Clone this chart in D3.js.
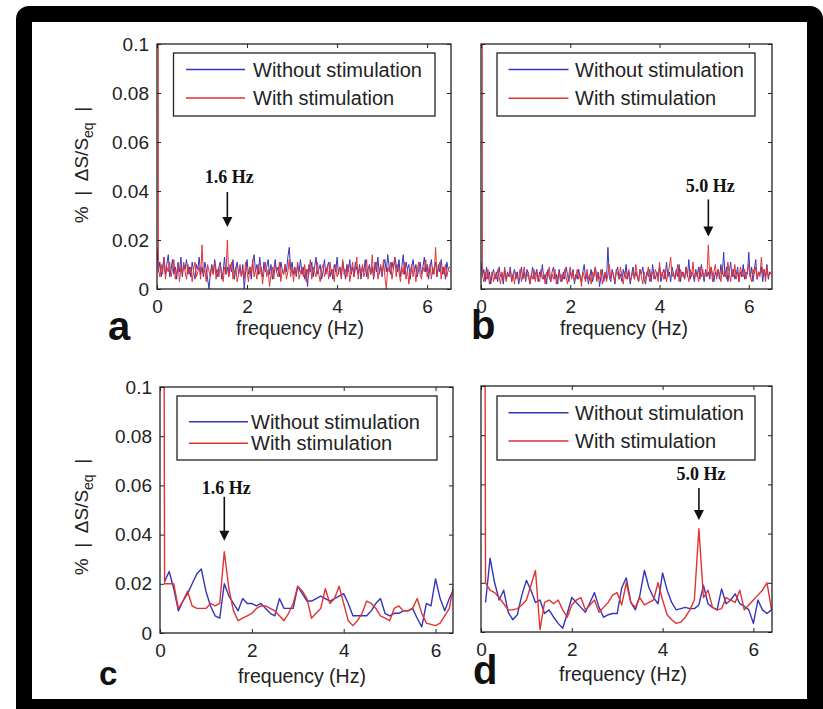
<!DOCTYPE html>
<html>
<head>
<meta charset="utf-8">
<script src="https://cdn.jsdelivr.net/npm/d3@7"></script>
<style>
  html, body { margin: 0; padding: 0; background: #fff; }
  svg { display: block; }
</style>
</head>
<body>
<svg id="chart" width="823" height="709" font-family='"Liberation Sans", Arial, sans-serif'></svg>
<script>
// Spectral amplitude of the signal change, in units of 0.001 % |ΔS/Seq|.
// Bin 0 is the DC term; null means no value at that bin.
const stepAB = 1 / 32; // Hz between bins, panels a and b
const stepCD = 0.1;    // Hz between bins, panels c and d

const aWithout = [
  17, 7, 11, 5, 9, 13, 6, 10, 14, 5,
  8, 12, 6, 9, 4, 11, 7, 13, 5, 10,
  8, 12, 6, 9, 5, 11, 7, 4, 10, 8,
  13, 6, 9, 5, 11, 8, 4, 0, 7, 10,
  6, 12, 8, 5, 9, 11, 4, 7, 13, 6,
  9, 5, 10, 7, 12, 4, 8, 11, 6, 9,
  5, 10, 0, 7, 12, 6, 9, 4, 11, 14,
  7, 10, 6, 13, 8, 5, 11, 7, 9, 12,
  6, 10, 4, 8, 12, 7, 9, 5, 11, 8,
  6, 10, 7, 13, 17, 8, 11, 6, 9, 5,
  10, 7, 12, 6, 9, 4, 8, 1, 10, 7,
  11, 5, 9, 13, 6, 8, 10, 4, 7, 12,
  6, 9, 11, 5, 8, 4, 10, 7, 13, 6,
  9, 5, 11, 8, 4, 10, 7, 12, 6, 9,
  5, 11, 8, 6, 10, 4, 9, 7, 12, 5,
  8, 10, 6, 9, 4, 11, 7, 13, 6, 9,
  5, 10, 12, 7, 14, 9, 6, 11, 8, 13,
  10, 7, 12, 5, 9, 14, 6, 11, 8, 10,
  4, 9, 12, 7, 10, 5, 8, 11, 6, 9,
  13, 7, 10, 4, 9, 12, 6, 8, 11, 5,
  10, 7, 12, 6, 9, 4, 11, 8, 9
];
const aWith = [
  1500, 8, 5, 10, 6, 13, 4, 9, 7, 11,
  5, 8, 12, 4, 7, 10, 3, 9, 6, 11,
  7, 4, 10, 6, 9, 3, 8, 11, 5, 7,
  9, 4, 18, 6, 8, 3, 10, 7, 5, 9,
  6, 11, 4, 8, 5, 10, 7, 3, 9, 6,
  20, 5, 8, 11, 4, 7, 9, 3, 6, 10,
  5, 8, 4, 11, 7, 3, 9, 6, 12, 5,
  8, 4, 10, 6, 9, 2, 7, 11, 5, 8,
  1, 6, 9, 4, 10, 7, 5, 11, 3, 8,
  6, 10, 4, 7, 12, 5, 9, 3, 8, 6,
  11, 4, 7, 9, 5, 10, 3, 8, 6, 12,
  4, 9, 7, 5, 11, 6, 3, 8, 10, 5,
  7, 9, 4, 11, 6, 8, 3, 10, 5, 7,
  9, 4, 12, 6, 8, 5, 10, 3, 7, 11,
  5, 8, 13, 4, 9, 6, 10, 5, 7, 12,
  4, 9, 6, 14, 5, 8, 11, 4, 7, 10,
  6, 12, 5, 0, 9, 7, 11, 4, 8, 13,
  5, 10, 7, 3, 9, 6, 11, 4, 8, 2,
  7, 10, 5, 9, 3, 8, 11, 6, 4, 9,
  7, 12, 5, 8, 10, 4, 9, 6, 17, 5,
  8, 11, 4, 9, 6, 10, 5, 8, 7
];
const bWithout = [
  11, 5, 8, 3, 9, 4, 7, 2, 6, 8,
  4, 7, 3, 9, 5, 6, 2, 8, 4, 7,
  5, 9, 3, 6, 8, 4, 7, 2, 5, 9,
  4, 7, 3, 8, 6, 2, 5, 9, 4, 6,
  8, 3, 7, 5, 10, 4, 6, 2, 8, 5,
  3, 7, 9, 4, 6, 2, 8, 5, 3, 7,
  4, 9, 6, 3, 7, 5, 8, 2, 6, 4,
  8, 5, 3, 7, 10, 4, 6, 2, 5, 8,
  3, 6, 9, 4, 7, 1, 5, 8, 3, 6,
  4, 17, 5, 3, 8, 6, 2, 7, 9, 4,
  6, 3, 8, 5, 10, 4, 7, 2, 6, 9,
  4, 7, 5, 3, 8, 6, 9, 4, 2, 7,
  5, 8, 3, 10, 6, 4, 7, 5, 9, 3,
  6, 8, 4, 11, 5, 7, 3, 9, 6, 4,
  8, 5, 10, 3, 7, 6, 4, 9, 5, 12,
  4, 7, 6, 3, 8, 5, 9, 4, 10, 6,
  3, 8, 5, 7, 4, 9, 6, 3, 7, 5,
  8, 4, 10, 6, 15, 5, 9, 3, 7, 11,
  5, 8, 4, 6, 9, 3, 7, 5, 10, 4,
  7, 6, 15, 5, 9, 3, 8, 12, 4, 7,
  6, 9, 3, 8, 5, 10, 4, 7, 6
];
const bWith = [
  1500, 6, 3, 7, 4, 8, 2, 5, 7, 3,
  6, 4, 8, 5, 2, 7, 4, 9, 3, 6,
  5, 8, 3, 6, 2, 7, 5, 4, 8, 3,
  6, 9, 4, 5, 7, 2, 6, 4, 8, 3,
  7, 5, 3, 8, 4, 6, 2, 7, 5, 9,
  3, 6, 4, 8, 2, 5, 7, 3, 6, 4,
  8, 5, 2, 6, 9, 4, 7, 3, 5, 8,
  4, 6, 1, 7, 5, 3, 8, 4, 6, 2,
  7, 5, 9, 3, 6, 4, 8, 2, 5, 7,
  3, 6, 10, 4, 7, 5, 3, 8, 6, 4,
  9, 5, 2, 7, 4, 6, 8, 3, 5, 7,
  4, 10, 6, 3, 8, 5, 2, 7, 4, 6,
  9, 3, 5, 7, 4, 8, 6, 3, 11, 5,
  7, 4, 8, 3, 6, 9, 13, 5, 7, 4,
  6, 10, 3, 8, 5, 7, 4, 9, 6, 3,
  8, 5, 11, 4, 7, 6, 3, 9, 5, 8,
  4, 7, 6, 18, 5, 9, 3, 7, 10, 4,
  8, 6, 3, 9, 5, 7, 4, 11, 6, 3,
  8, 5, 10, 4, 7, 3, 9, 6, 5, 8,
  4, 7, 10, 5, 3, 8, 6, 9, 4, 7,
  5, 13, 6, 8, 3, 9, 5, 7, 6
];
const cWithout = [
  null, 21, 25, 18, 9, 13, 16, 20, 24, 26,
  17, 11, 7, 6, 20, 15, 12, 9, 14, 12,
  12, 11, 12, 10, 8, 7, 14, 10, 10, 10,
  19, 16, 13, 13, 14, 15, 14, 13, 14, 15,
  16, 12, 7, 7, 7, 7, 9, 12, 14, 8,
  7, 8, 8, 9, 9, 10, 6, 2.5, 12, 11,
  22, 14, 9, 14, 18
];
const cWith = [
  900, 20, 20, 20, 10, 13, 17, 11, 10, 10,
  10, 12, 11, 12, 33, 18, 9, 5, 6, 7,
  8, 10, 11, 11, 10, 9, 7, 5, 8, 12,
  19, 17, 14, 6, 8, 10, 18, 12, 14, 19,
  12, 5, 3, 5, 8, 13, 12, 10, 7, 6,
  5, 10, 11, 9, 9, 10, 14, 8, 4, 3.5,
  3, 4, 7, 10, 20
];
const dWithout = [
  null, 12, 30, 20, 13, 17, 8, 5, 7, 15,
  21, 17, 12, 13, 7.5, 9, 6, 3.5, 1.5, 7.5,
  14, 12, 10, 8, 12, 16, 10, 6, 7, 7.5,
  7.5, 18, 22, 12, 9, 15, 25, 18, 14, 11.5,
  24, 17, 12, 9, 9.5, 10, 9.5, 9.5, 11, 19,
  11.5, 10, 9, 17.5, 11.5, 13, 15.5, 11.5, 10.5, 9,
  3.5, 13, 9, 7.5, 9
];
const dWith = [
  900, 20, 17, 16, 14, 11.5, 9, 9, 9.5, 11,
  13, 19, 25, 1, 12, 13, 11.5, 13, 9, 6,
  11, 13, 14, 9, 11, 13, 8, 10, 12, 15,
  16, 11, 20, 12, 10, 14, 11, 12, 13, 20,
  13, 7, 5, 3.5, 4, 6, 9, 13, 42, 14,
  17, 10, 9, 9.5, 14, 13, 12, 17, 9, 11,
  13, 15, 17, 20, 9
];

const yTicks = [0, 0.02, 0.04, 0.06, 0.08, 0.1];
const yTickLabels = ["0", "0.02", "0.04", "0.06", "0.08", "0.1"];
const xTicks = [0, 2, 4, 6];
const xTickLabels = ["0", "2", "4", "6"];
const seriesNames = ["Without stimulation", "With stimulation"];
const seriesColors = ["#3434bc", "#e23232"];
const peakLabels = ["1.6 Hz", "5.0 Hz", "1.6 Hz", "5.0 Hz"];
const panelLetters = ["a", "b", "c", "d"];

// Placement of each panel on the page
const layout = [
  { data: [aWithout, aWith], step: stepAB, left: 157, right: 451, top: 44, bottom: 289, xMax: 6.53,
    showY: true, yLabelY: 165, lw: 1.0,
    legend: { x0: 173.5, x1: 435, y0: 53, y1: 116, rows: [69.5, 98], line: [186, 245], textX: 253 },
    letter: { x: 108, y: 340, size: 40 }, xLabelX: 300, xLabelY: 335,
    arrow: { gap: 13, len: 35, label: 44 } },
  { data: [bWithout, bWith], step: stepAB, left: 481, right: 772, top: 44, bottom: 289, xMax: 6.52,
    showY: false, lw: 1.0,
    legend: { x0: 497, x1: 755, y0: 53, y1: 116, rows: [69.5, 98.3], line: [508.5, 568.5], textX: 575 },
    letter: { x: 471, y: 339, size: 40 }, xLabelX: 624, xLabelY: 335,
    arrow: { gap: 8.5, len: 37, label: 44 } },
  { data: [cWithout, cWith], step: stepCD, left: 160, right: 453, top: 387, bottom: 633, xMax: 6.38,
    showY: true, yLabelY: 517, lw: 1.4,
    legend: { x0: 177, x1: 437, y0: 396, y1: 460, rows: [421.7, 443.3], line: [189, 248], textX: 251 },
    letter: { x: 99, y: 685, size: 33 }, xLabelX: 302, xLabelY: 683,
    arrow: { gap: 11, len: 44, label: 47 } },
  { data: [dWithout, dWith], step: stepCD, left: 481, right: 772, top: 386, bottom: 632, xMax: 6.41,
    showY: false, lw: 1.4,
    legend: { x0: 497, x1: 755, y0: 396, y1: 460, rows: [412.7, 441], line: [508.5, 568.5], textX: 575 },
    letter: { x: 473, y: 684, size: 40 }, xLabelX: 623, xLabelY: 681,
    arrow: { gap: 8.6, len: 32, label: 40 } }
];

const svg = d3.select("#chart");

// Heavy black rounded frame around the figure
svg.append("rect").attr("x", 16).attr("y", 6).attr("width", 807).attr("height", 720)
  .attr("rx", 13).attr("fill", "#000");
svg.append("rect").attr("x", 32).attr("y", 22).attr("width", 775).attr("height", 677)
  .attr("fill", "#fff");

const defs = svg.append("defs");

layout.forEach((L, i) => {
  const x = d3.scaleLinear().domain([0, L.xMax]).range([L.left, L.right]);
  const y = d3.scaleLinear().domain([0, 0.1]).range([L.bottom, L.top]);
  const g = svg.append("g");

  const clipId = "plotclip" + i;
  defs.append("clipPath").attr("id", clipId).append("rect")
    .attr("x", L.left).attr("y", L.top)
    .attr("width", L.right - L.left).attr("height", L.bottom - L.top);

  // spectra: "without" first, "with" drawn on top
  const line = d3.line()
    .defined(d => d != null)
    .x((d, j) => x(j * L.step))
    .y(d => y(d / 1000));
  L.data.forEach((series, s) => {
    g.append("path").datum(series)
      .attr("clip-path", `url(#${clipId})`)
      .attr("fill", "none")
      .attr("stroke", seriesColors[s])
      .attr("stroke-width", L.lw)
      .attr("stroke-linejoin", "round")
      .attr("d", line);
  });

  // inward ticks on all four sides
  const styleAxis = sel => {
    sel.select(".domain").remove();
    sel.selectAll(".tick line").attr("stroke", "#222").attr("stroke-width", 1);
    sel.selectAll(".tick text").attr("font-size", 19).attr("fill", "#222")
      .attr("font-family", '"Liberation Sans", Arial, sans-serif');
  };
  g.append("g").attr("transform", `translate(0,${L.bottom})`)
    .call(d3.axisBottom(x).tickValues(xTicks).tickSizeInner(-4).tickSizeOuter(0).tickPadding(11)
      .tickFormat(d => xTickLabels[xTicks.indexOf(d)]))
    .call(styleAxis);
  g.append("g").attr("transform", `translate(0,${L.top})`)
    .call(d3.axisTop(x).tickValues(xTicks).tickSizeInner(-4).tickSizeOuter(0).tickFormat(() => ""))
    .call(styleAxis);
  g.append("g").attr("transform", `translate(${L.left},0)`)
    .call(d3.axisLeft(y).tickValues(yTicks).tickSizeInner(-4).tickSizeOuter(0).tickPadding(8)
      .tickFormat(d => L.showY ? yTickLabels[yTicks.indexOf(d)] : ""))
    .call(styleAxis);
  g.append("g").attr("transform", `translate(${L.right},0)`)
    .call(d3.axisRight(y).tickValues(yTicks).tickSizeInner(-4).tickSizeOuter(0).tickFormat(() => ""))
    .call(styleAxis);

  // plot box
  g.append("rect").attr("x", L.left).attr("y", L.top)
    .attr("width", L.right - L.left).attr("height", L.bottom - L.top)
    .attr("fill", "none").attr("stroke", "#222").attr("stroke-width", 1.3);

  // legend
  const lg = L.legend;
  g.append("rect").attr("x", lg.x0).attr("y", lg.y0)
    .attr("width", lg.x1 - lg.x0).attr("height", lg.y1 - lg.y0)
    .attr("fill", "#fff").attr("stroke", "#222").attr("stroke-width", 1.3);
  seriesNames.forEach((name, s) => {
    g.append("line").attr("x1", lg.line[0]).attr("x2", lg.line[1])
      .attr("y1", lg.rows[s]).attr("y2", lg.rows[s])
      .attr("stroke", seriesColors[s]).attr("stroke-width", 1.4);
    g.append("text").attr("x", lg.textX).attr("y", lg.rows[s] + 7)
      .attr("font-size", 20).attr("fill", "#222").text(name);
  });

  // arrow pointing at the stimulation peak of the "with" spectrum
  const withSeries = L.data[1];
  const peakIdx = 1 + d3.maxIndex(withSeries.slice(1));
  const px = x(peakIdx * L.step);
  const tipY = y(withSeries[peakIdx] / 1000) - L.arrow.gap;
  const headH = 10, headW = 5;
  g.append("line").attr("x1", px).attr("x2", px)
    .attr("y1", tipY - L.arrow.len).attr("y2", tipY - headH + 1)
    .attr("stroke", "#111").attr("stroke-width", 1.6);
  g.append("path")
    .attr("d", `M${px - headW},${tipY - headH}L${px + headW},${tipY - headH}L${px},${tipY}Z`)
    .attr("fill", "#111");
  g.append("text").attr("x", px + 2).attr("y", tipY - L.arrow.label)
    .attr("text-anchor", "middle")
    .attr("font-family", '"Liberation Serif", "Times New Roman", serif')
    .attr("font-weight", "bold").attr("font-size", 18).attr("fill", "#111")
    .text(peakLabels[i]);

  // x-axis title
  g.append("text").attr("x", L.xLabelX).attr("y", L.xLabelY)
    .attr("text-anchor", "middle").attr("font-size", 19.5).attr("fill", "#222")
    .text("frequency (Hz)");

  // y-axis title
  if (L.showY) {
    const t = g.append("text")
      .attr("transform", `translate(88,${L.yLabelY}) rotate(-90)`)
      .attr("text-anchor", "middle").attr("font-size", 19).attr("fill", "#222")
      .style("white-space", "pre");
    t.append("tspan").text("%  |  ΔS/S");
    t.append("tspan").attr("dy", 5).attr("font-size", 14).text("eq");
    t.append("tspan").attr("dy", -5).text("  |");
  }

  // panel letter
  g.append("text").attr("x", L.letter.x).attr("y", L.letter.y)
    .attr("font-size", L.letter.size).attr("font-weight", "bold").attr("fill", "#111")
    .text(panelLetters[i]);
});
</script>
</body>
</html>
